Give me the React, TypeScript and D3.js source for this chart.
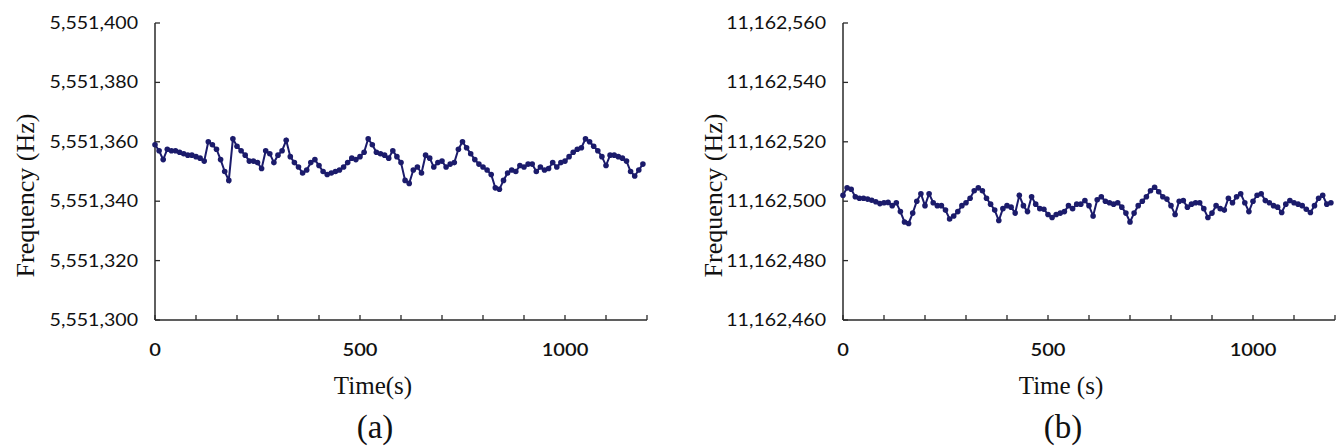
import React from 'react';
import * as d3 from 'd3';

// time stamps (s), one reading every 10 s
const times = d3.range(0, 1200, 10);

// panel (a): offsets from 5,551,300 Hz
const baseA = 5551300;
const offsetsA = [
  59, 57, 54, 57.5, 57, 57, 56.5, 56, 55.5, 55.5,
  55, 54.5, 53.5, 60, 59, 57.5, 54, 50, 47, 61,
  58.5, 57, 55.5, 53.5, 53.5, 53, 51, 57, 56, 53,
  55.5, 57, 60.5, 55, 53, 51.5, 49.5, 50.5, 53, 54,
  52, 50, 49, 49.5, 50, 50.5, 51.5, 53, 54.5, 54,
  55, 56.5, 61, 59, 56.5, 56, 55.5, 54.5, 57, 55,
  53, 47, 46, 50.5, 51.5, 49.5, 55.5, 54.5, 51.5, 53,
  53.5, 51.5, 52.5, 53, 57.5, 60, 58, 56, 54, 52.5,
  51.5, 50.5, 49, 44.5, 44, 47, 49.5, 50.5, 50, 52,
  51.5, 52.5, 52.5, 50, 51.5, 50.5, 51, 53, 51.5, 53,
  53.5, 55, 56.5, 57.5, 58, 61, 60, 58.5, 57, 55,
  52, 55.5, 55.5, 55, 54.5, 53.5, 50, 48.5, 50.5, 52.5,
];

// panel (b): offsets from 11,162,500 Hz
const baseB = 11162500;
const offsetsB = [
  2, 4.5, 4, 1.5, 1, 1, 0.7, 0.3, -0.2, -0.8,
  -0.5, -0.4, -1.5, -0.5, -3.5, -7, -7.5, -4, 0, 2.5,
  -1.5, 2.5, -0.5, -1.5, -1.5, -3, -6, -5, -3.5, -1.5,
  -0.5, 1, 3.5, 4.5, 3.5, 1, -1, -3, -6.5, -2.5,
  -1.5, -2, -4, 2, -1.5, -3.5, 1.5, -1, -2.5, -2.7,
  -4.5, -5.5, -4.5, -4, -3.5, -1.5, -2.5, -1, -1, 0.2,
  -1.5, -5, 0.5, 1.5, 0, -0.5, -1, -0.5, -2, -4,
  -7, -4, -1.5, 0, 1.5, 3.5, 4.7, 3.2, 1.5, 0.7,
  -1.5, -4.5, 0, 0.2, -2, -1, -0.5, -0.5, -2.5, -5.5,
  -4, -1.5, -2.5, -3, 1, -0.5, 1.5, 2.5, -0.5, -3.5,
  0, 2, 2.5, 0.2, -0.5, -1.5, -2, -3.8, -1, 0.2,
  -0.5, -1, -1.5, -2.7, -3.8, -1.5, 1, 2, -1, -0.5,
];

const yTicksA = [5551300, 5551320, 5551340, 5551360, 5551380, 5551400];
const yTicksB = [11162460, 11162480, 11162500, 11162520, 11162540, 11162560];
const xLabelTicks = [0, 500, 1000];
const xMinorTicks = d3.range(0, 1201, 100);

const ink = '#1b1b6b';
const axisColor = '#2a2a2a';
const textColor = '#111';
const fmt = d3.format(',');

type PanelProps = {
  left: number;
  values: number[];
  yTicks: number[];
  xTitle: string;
  tag: string;
};

const Panel = ({ left, values, yTicks, xTitle, tag }: PanelProps) => {
  const top = 23;
  const bottom = 320;
  const width = 492;

  const x = d3.scaleLinear().domain([0, 1200]).range([left, left + width]);
  const y = d3.scaleLinear().domain([yTicks[0], yTicks[yTicks.length - 1]]).range([bottom, top]);

  const pts = times.map((t, i) => [t, values[i]] as [number, number]);
  const line = d3.line<[number, number]>().x(d => x(d[0])).y(d => y(d[1]));

  return (
    <g>
      {/* axes */}
      <line x1={left} x2={left} y1={top} y2={bottom} stroke={axisColor} strokeWidth={1.5} />
      <line x1={left} x2={left + width} y1={bottom} y2={bottom} stroke={axisColor} strokeWidth={1.5} />
      {yTicks.map(v => (
        <g key={v}>
          <line x1={left} x2={left + 5} y1={y(v)} y2={y(v)} stroke={axisColor} strokeWidth={1.3} />
          <text
            transform={`translate(${left - 17},${y(v) + 6}) scale(1.12,1)`}
            textAnchor="end"
            fontFamily="Lato, sans-serif"
            fontSize={17.5}
            fill={textColor}
          >
            {fmt(v)}
          </text>
        </g>
      ))}
      {xMinorTicks.map(t => (
        <line key={t} x1={x(t)} x2={x(t)} y1={bottom} y2={bottom - 5} stroke={axisColor} strokeWidth={1.3} />
      ))}
      {xLabelTicks.map(t => (
        <text
          key={t}
          transform={`translate(${x(t)},${bottom + 36}) scale(1.15,1)`}
          textAnchor="middle"
          fontFamily="Lato, sans-serif"
          fontWeight={600}
          fontSize={17.5}
          fill={textColor}
        >
          {t}
        </text>
      ))}

      {/* titles */}
      <text
        transform={`translate(${left - 121},${(top + bottom) / 2 + 24}) rotate(-90)`}
        textAnchor="middle"
        fontFamily="'Liberation Serif', serif"
        fontSize={26}
        fill={textColor}
      >
        Frequency (Hz)
      </text>
      <text
        x={left + width / 2 - 28}
        y={bottom + 74}
        textAnchor="middle"
        fontFamily="'Liberation Serif', serif"
        fontSize={25}
        fill={textColor}
      >
        {xTitle}
      </text>
      <text
        x={left + width / 2 - 26}
        y={bottom + 118}
        textAnchor="middle"
        fontFamily="'Liberation Serif', serif"
        fontSize={33}
        fill={textColor}
      >
        {tag}
      </text>

      {/* series */}
      <path d={line(pts) ?? ''} fill="none" stroke={ink} strokeWidth={2} />
      {pts.map((d, i) => (
        <circle key={i} cx={x(d[0])} cy={y(d[1])} r={2.8} fill={ink} />
      ))}
    </g>
  );
};

export default function App() {
  const valuesA = offsetsA.map(o => baseA + o);
  const valuesB = offsetsB.map(o => baseB + o);
  return (
    <svg
      width={1336}
      height={446}
      style={{ position: 'absolute', left: 0, top: 0, background: '#fff' }}
    >
      <Panel left={155} values={valuesA} yTicks={yTicksA} xTitle="Time(s)" tag="(a)" />
      <Panel left={843} values={valuesB} yTicks={yTicksB} xTitle="Time (s)" tag="(b)" />
    </svg>
  );
}
